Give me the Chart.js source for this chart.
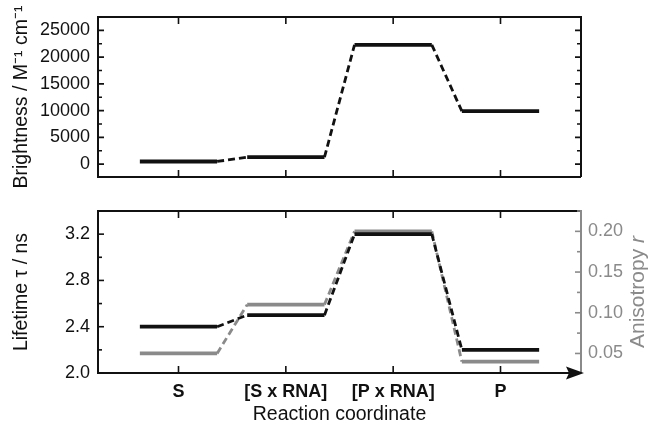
<!DOCTYPE html>
<html><head><meta charset="utf-8">
<script src="https://cdn.jsdelivr.net/npm/chart.js@4.4.1/dist/chart.umd.min.js"></script>
<style>
html,body{margin:0;padding:0;background:#fff;}
#wrap{position:relative;width:650px;height:430px;overflow:hidden;}
.box{position:absolute;left:0;width:650px;}
</style></head><body>
<div id="wrap">
<div class="box" style="top:0;height:194px"><canvas id="c1"></canvas></div>
<div class="box" style="top:194px;height:236px"><canvas id="c2"></canvas></div>
</div>
<script>
// ---- data ----
const categories = ['S', '[S x RNA]', '[P x RNA]', 'P'];
const brightness = [500, 1300, 22300, 9900];
const lifetime = [2.4, 2.5, 3.2, 2.2];
const anisotropy = [0.05, 0.11, 0.20, 0.04];
const brightnessTicks = [0, 5000, 10000, 15000, 20000, 25000];
const lifetimeTicks = [2.0, 2.4, 2.8, 3.2];
const anisotropyTicks = [0.05, 0.10, 0.15, 0.20];

// ---- styling constants ----
const HW = 0.36;                 // half width of a level bar, in category units
const BLACK = '#111';
const GREY = '#8a8a8a';
const FONT = 'Liberation Sans, Arial, sans-serif';

function levelPoints(vals) {
  const pts = [];
  vals.forEach((v, i) => { pts.push({x: i - HW, y: v}); pts.push({x: i + HW, y: v}); });
  return pts;
}
function levelDataset(vals, color, axis) {
  return {
    data: levelPoints(vals), yAxisID: axis,
    borderColor: color, borderWidth: 3.5, pointRadius: 0, tension: 0,
    borderCapStyle: 'butt', fill: false,
    segment: {
      borderDash: c => (c.p0DataIndex % 2 === 1 ? [7, 4] : []),
      borderWidth: c => (c.p0DataIndex % 2 === 1 ? 2.8 : 3.8)
    }
  };
}
function minorTicks(majors, min, max) {
  const step = majors[1] - majors[0];
  const out = [];
  for (let v = majors[0] - step * 10; v <= max + 1e-9; v += step / 2) {
    if (v >= min - 1e-9) out.push(v);
  }
  return out;
}

const framePlugin = {
  id: 'frame',
  afterDraw(chart, args, opts) {
    const {ctx, chartArea: a, scales} = chart;
    ctx.save();
    ctx.lineCap = 'butt';
    ctx.lineWidth = 2;
    ctx.strokeStyle = BLACK;
    ctx.beginPath();
    ctx.moveTo(a.right, a.top); ctx.lineTo(a.left, a.top); ctx.lineTo(a.left, a.bottom); ctx.lineTo(a.right, a.bottom);
    ctx.stroke();
    ctx.strokeStyle = opts.rightColor || BLACK;
    ctx.beginPath(); ctx.moveTo(a.right, a.top - 1); ctx.lineTo(a.right, a.bottom); ctx.stroke();
    ctx.lineWidth = 1.6;
    ctx.strokeStyle = BLACK;
    categories.forEach((c, i) => {
      const x = scales.x.getPixelForValue(i);
      ctx.beginPath();
      ctx.moveTo(x, a.top); ctx.lineTo(x, a.top + 7);
      ctx.moveTo(x, a.bottom); ctx.lineTo(x, a.bottom - 7);
      ctx.stroke();
    });
    const yl = scales.y;
    const lt = opts.leftTicks;
    minorTicks(lt, yl.min, yl.max).forEach(v => {
      const y = yl.getPixelForValue(v);
      const major = lt.some(t => Math.abs(t - v) < 1e-9);
      const len = major ? 6 : 4;
      ctx.strokeStyle = BLACK;
      ctx.beginPath(); ctx.moveTo(a.left, y); ctx.lineTo(a.left + len, y);
      if (!opts.rightTicks) { ctx.moveTo(a.right, y); ctx.lineTo(a.right - len, y); }
      ctx.stroke();
    });
    if (opts.rightTicks) {
      const yr = scales.y2;
      const rt = opts.rightTicks;
      ctx.strokeStyle = GREY;
      minorTicks(rt, yr.min, yr.max).forEach(v => {
        const y = yr.getPixelForValue(v);
        const major = rt.some(t => Math.abs(t - v) < 1e-9);
        const len = major ? 6 : 4;
        ctx.beginPath(); ctx.moveTo(a.right, y); ctx.lineTo(a.right - len, y); ctx.stroke();
      });
    }
    if (opts.arrow) {
      ctx.fillStyle = BLACK;
      ctx.beginPath();
      ctx.moveTo(a.right + 3, a.bottom);
      ctx.lineTo(a.right - 15, a.bottom - 6.5);
      ctx.lineTo(a.right - 12, a.bottom);
      ctx.lineTo(a.right - 15, a.bottom + 6.5);
      ctx.closePath();
      ctx.fill();
    }
    if (opts.rightTitle) {
      ctx.fillStyle = GREY;
      ctx.translate(a.right + 57, (a.top + a.bottom) / 2);
      ctx.rotate(-Math.PI / 2);
      ctx.textBaseline = 'middle';
      const f1 = '21px ' + FONT, f2 = 'italic 21px ' + FONT;
      ctx.font = f1; const w1 = ctx.measureText(opts.rightTitle[0]).width;
      ctx.font = f2; const w2 = ctx.measureText(opts.rightTitle[1]).width;
      const x0 = -(w1 + w2) / 2;
      ctx.textAlign = 'left';
      ctx.font = f1; ctx.fillText(opts.rightTitle[0], x0, 0);
      ctx.font = f2; ctx.fillText(opts.rightTitle[1], x0 + w1, 0);
    }
    ctx.restore();
  }
};

Chart.defaults.font.family = FONT;
Chart.defaults.color = BLACK;

const xCommon = (showLabels, h) => ({
  type: 'linear', min: -0.75, max: 3.75,
  grid: {display: false, drawTicks: false}, border: {display: false},
  afterBuildTicks: s => { s.ticks = categories.map((c, i) => ({value: i})); },
  afterFit: s => { s.height = h; },
  ticks: {
    display: showLabels, padding: 8, autoSkip: false, maxRotation: 0,
    font: {size: 18, weight: 'bold', lineHeight: 1.2}, color: BLACK,
    callback: v => categories[v]
  }
});

new Chart(document.getElementById('c1'), {
  type: 'line',
  data: {datasets: [levelDataset(brightness, BLACK, 'y')]},
  options: {
    responsive: true, maintainAspectRatio: false, animation: false,
    layout: {padding: {top: 15, right: 69, left: 0, bottom: 0}},
    plugins: {legend: {display: false}, tooltip: {enabled: false},
      frame: {leftTicks: brightnessTicks}},
    scales: {
      x: xCommon(false, 10),
      y: {
        type: 'linear', min: -2400, max: 27500,
        grid: {display: false, drawTicks: false}, border: {display: false},
        afterBuildTicks: s => { s.ticks = brightnessTicks.map(v => ({value: v})); },
        afterFit: s => { s.width = 98; },
        ticks: {padding: 8, font: {size: 18, lineHeight: 1}, color: BLACK, callback: v => String(v)},
        title: {display: true, text: 'Brightness / M⁻¹ cm⁻¹', font: {size: 19.5}, color: BLACK, padding: 10}
      }
    }
  },
  plugins: [framePlugin]
});

new Chart(document.getElementById('c2'), {
  type: 'line',
  data: {datasets: [levelDataset(lifetime, BLACK, 'y'), levelDataset(anisotropy, GREY, 'y2')]},
  options: {
    responsive: true, maintainAspectRatio: false, animation: false,
    layout: {padding: {top: 10, right: 0, left: 0, bottom: 0}},
    plugins: {legend: {display: false}, tooltip: {enabled: false},
      frame: {leftTicks: lifetimeTicks, rightTicks: anisotropyTicks, arrow: true,
        rightColor: GREY, rightTitle: ['Anisotropy ', 'r']}},
    scales: {
      x: Object.assign(xCommon(true, 57), {
        title: {display: true, text: 'Reaction coordinate', font: {size: 19.5}, color: BLACK, padding: {top: 0, bottom: 4}}
      }),
      y: {
        type: 'linear', position: 'left', min: 2.0, max: 3.4,
        grid: {display: false, drawTicks: false}, border: {display: false},
        afterBuildTicks: s => { s.ticks = lifetimeTicks.map(v => ({value: v})); },
        afterFit: s => { s.width = 98; },
        ticks: {padding: 8, font: {size: 18, lineHeight: 1}, color: BLACK, callback: v => v.toFixed(1)},
        title: {display: true, text: 'Lifetime τ / ns', font: {size: 19.5}, color: BLACK, padding: 10}
      },
      y2: {
        type: 'linear', position: 'right', min: 0.026, max: 0.225,
        grid: {display: false, drawTicks: false}, border: {display: false},
        afterBuildTicks: s => { s.ticks = anisotropyTicks.map(v => ({value: v})); },
        afterFit: s => { s.width = 69; },
        ticks: {padding: 7, font: {size: 18, lineHeight: 1}, color: GREY, callback: v => v.toFixed(2)}
      }
    }
  },
  plugins: [framePlugin]
});
</script>
</body></html>
